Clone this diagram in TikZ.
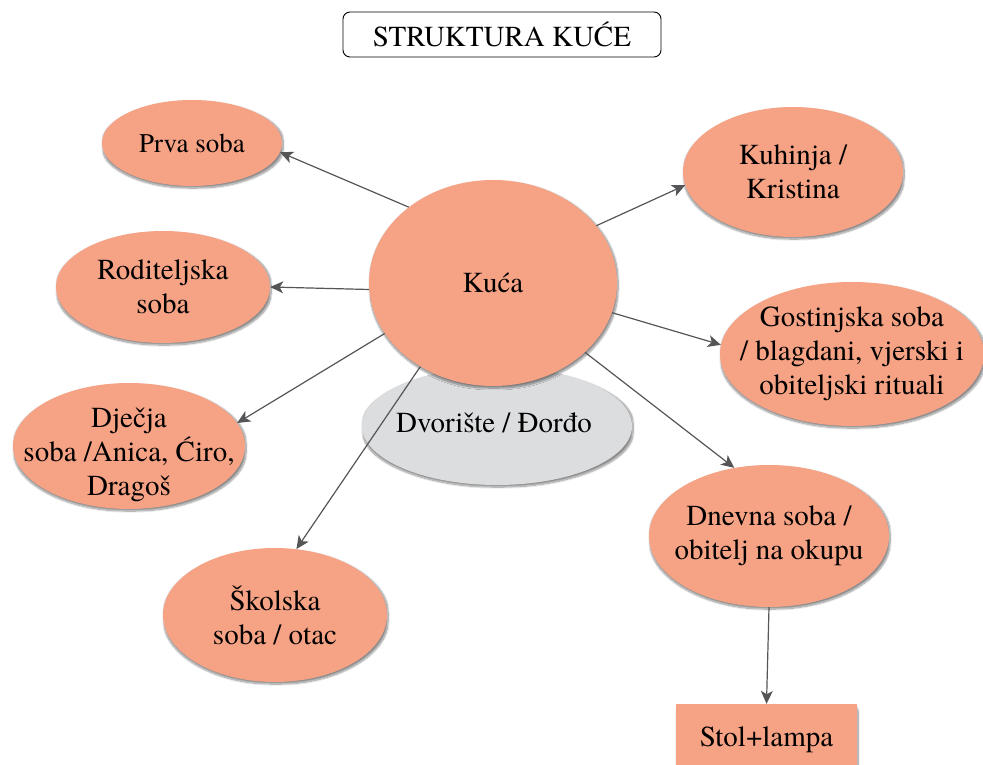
\documentclass[tikz,border=0pt]{standalone}
\usepackage{fontspec}
\setmainfont{texgyretermes-regular.otf}
\usetikzlibrary{shapes.geometric,arrows.meta,shadows.blur}

\definecolor{sobafill}{HTML}{F6A285}
\definecolor{dvorfill}{HTML}{DCDDDF}
\definecolor{strelica}{HTML}{555557}

\tikzset{
  sjena/.style={blur shadow={shadow xshift=1pt, shadow yshift=-2pt, shadow blur steps=12, shadow blur extra rounding=5pt, shadow opacity=45}},
  soba/.style={ellipse, fill=sobafill, inner xsep=-60pt, inner ysep=-30pt, align=center, font=\fontsize{29}{34}\selectfont, sjena},
  veza/.style={draw=strelica, line width=1.2pt, -{Stealth[length=13pt,width=12pt,inset=3.5pt]}}
}

\begin{document}
\begin{tikzpicture}[x=1pt,y=-1pt]
      \useasboundingbox (0,0) rectangle (983,765);
      \clip (0,0) rectangle (983,765);

      % naslov
      \node[draw, rounded corners=7pt, line width=0.9pt, minimum width=318pt, minimum height=45pt, font=\fontsize{29}{34}\selectfont] (naslov) at (502,34.5) {STRUKTURA KUĆE};

      % dvoriste ispod kuce
      \node[ellipse, fill=dvorfill, inner sep=0pt, minimum width=270pt, minimum height=118pt, sjena] (dvoriste) at (497,426) {};
      \node[font=\fontsize{29}{34}\selectfont] at (494,423) {Dvorište / Đorđo};

      \node[soba, minimum width=248pt, minimum height=206pt] (kuca) at (493,283) {Kuća};

      % sobe lijevo
      \node[soba, minimum width=180pt, minimum height=86pt, font=\fontsize{27}{34}\selectfont] (prva) at (192,143) {Prva soba};
      \node[soba, minimum width=214pt, minimum height=112pt] (roditeljska) at (163,287) {Roditeljska\\soba};
      \node[soba, minimum width=232pt, minimum height=126pt] (djecja) at (129,446) {\rule{0pt}{38pt}Dječja\\soba /Anica, Ćiro,\\Dragoš};
      \node[soba, minimum width=224pt, minimum height=134pt] (skolska) at (275,615) {Školska\\soba / otac};

      % sobe desno
      \node[soba, minimum width=220pt, minimum height=130pt] (kuhinja) at (793,172) {Kuhinja /\\Kristina};
      \node[soba, minimum width=264pt, minimum height=144pt] (gostinjska) at (852,354) {Gostinjska soba\\/ blagdani, vjerski i\\obiteljski rituali};
      \node[soba, minimum width=240pt, minimum height=142pt] (dnevna) at (769,536) {Dnevna soba /\\obitelj na okupu};

      \node[rectangle, fill=sobafill, minimum width=181pt, minimum height=72pt, font=\fontsize{29}{34}\selectfont, sjena] (stol) at (766.5,740) {Stol+lampa};

      % veze
      \draw[veza] (kuca.138) -- (prva.-6);
      \draw[veza] (kuca.183) -- (roditeljska.0);
      \draw[veza] (kuca.205) -- (djecja.12);
      \draw[veza] (kuca.229) -- (skolska.72);
      \draw[veza] (kuca.29) -- (kuhinja.187);
      \draw[veza] (kuca.346) -- (gostinjska.176);
      \draw[veza] (kuca.323) -- (dnevna.117);
      \draw[veza] (dnevna.south) -- (stol.north);

    \end{tikzpicture}
\end{document}
